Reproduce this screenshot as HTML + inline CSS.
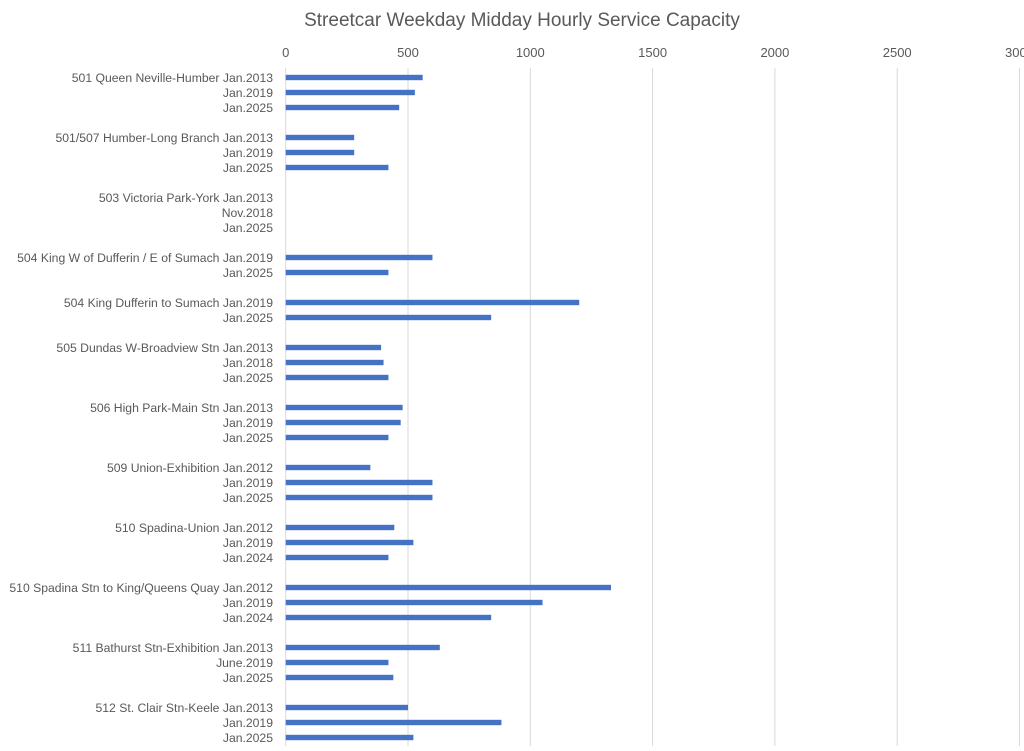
<!DOCTYPE html>
<html><head><meta charset="utf-8">
<style>
html,body{margin:0;padding:0;background:#fff;}
svg{display:block;font-family:"Liberation Sans",Calibri,sans-serif;}
</style></head>
<body>
<svg id="chart" width="1024" height="751" viewBox="0 0 1024 751" xmlns="http://www.w3.org/2000/svg">
<rect width="1024" height="751" fill="#fff"/>
<text x="522" y="26" text-anchor="middle" font-size="19" fill="#595959">Streetcar Weekday Midday Hourly Service Capacity</text>
<g id="grid"></g><g id="ticks"></g><g id="bars"></g><g id="labels"></g>
</svg>
<script>
const categories = [
"501 Queen Neville-Humber Jan.2013","Jan.2019","Jan.2025",null,
"501/507 Humber-Long Branch Jan.2013","Jan.2019","Jan.2025",null,
"503 Victoria Park-York Jan.2013","Nov.2018","Jan.2025",null,
"504 King W of Dufferin / E of Sumach Jan.2019","Jan.2025",null,
"504 King Dufferin to Sumach Jan.2019","Jan.2025",null,
"505 Dundas W-Broadview Stn Jan.2013","Jan.2018","Jan.2025",null,
"506 High Park-Main Stn Jan.2013","Jan.2019","Jan.2025",null,
"509 Union-Exhibition Jan.2012","Jan.2019","Jan.2025",null,
"510 Spadina-Union Jan.2012","Jan.2019","Jan.2024",null,
"510 Spadina Stn to King/Queens Quay Jan.2012","Jan.2019","Jan.2024",null,
"511 Bathurst Stn-Exhibition Jan.2013","June.2019","Jan.2025",null,
"512 St. Clair Stn-Keele Jan.2013","Jan.2019","Jan.2025"
];
const values = [
560,528,464,null,
280,280,420,null,
0,0,0,null,
600,420,null,
1200,840,null,
390,400,420,null,
478,470,420,null,
346,600,600,null,
444,522,420,null,
1330,1050,840,null,
630,420,440,null,
500,882,522
];
const tickValues = [0,500,1000,1500,2000,2500,3000];
const tickLabels = ["0","500","1000","1500","2000","2500","3000"];

const NS="http://www.w3.org/2000/svg";
const x0=285.7, pxPerUnit=0.2446, y0=77.5, slot=15;
const xScale=v=>x0+v*pxPerUnit;
const yScale=i=>y0+i*slot;
function mk(tag,attrs,parent){const e=document.createElementNS(NS,tag);for(const k in attrs)e.setAttribute(k,attrs[k]);parent.appendChild(e);return e;}
const grid=document.getElementById('grid'),ticks=document.getElementById('ticks'),bars=document.getElementById('bars'),labels=document.getElementById('labels');
tickValues.forEach((t,i)=>{
  const x=xScale(t);
  const l=mk('line',{x1:x,x2:x,y1:68,y2:746,stroke:'#d9d9d9','stroke-width':1},grid);
  
  
  const tx=mk('text',{x:x,y:57,'text-anchor':'middle','font-size':13,fill:'#595959'},ticks);
  tx.textContent=tickLabels[i];
  
  
});
categories.forEach((c,i)=>{
  if(c===null)return;
  const y=yScale(i);
  const lb=mk('text',{x:273,y:y+4.5,'text-anchor':'end','font-size':12.2,fill:'#595959'},labels);
  lb.textContent=c;
  
  
  const v=values[i];
  if(v){
    const r=mk('rect',{x:x0,y:y-2.7,width:xScale(v)-x0,height:5.4,fill:'#4472c4'},bars);
    
    
  }
});
</script>
</body></html>
